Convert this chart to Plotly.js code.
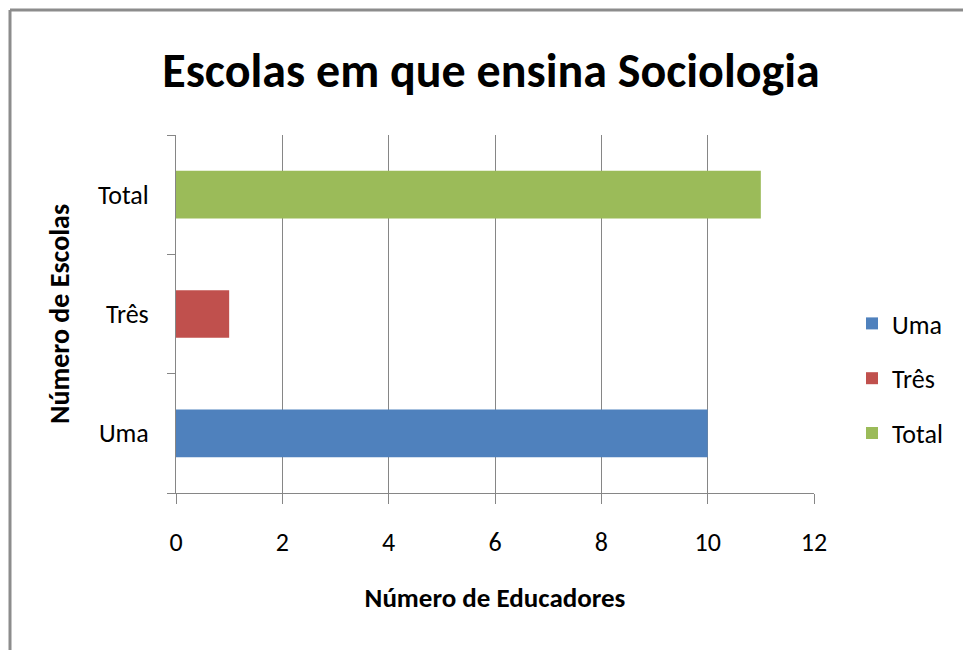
<!DOCTYPE html>
<html>
<head>
<meta charset="utf-8">
<script src="https://cdn.plot.ly/plotly-3.0.1.min.js"></script>
<style>
html,body{margin:0;padding:0;background:#fff;}
#chart{width:963px;height:650px;}
</style>
</head>
<body>
<div id="chart"></div>
<script>
const categories = ['Uma', 'Três', 'Total'];
const values = [10, 1, 11];
const colors = ['#4F81BD', '#C0504D', '#9BBB59'];
const xTicks = [0, 2, 4, 6, 8, 10, 12];
const titleText = 'Escolas em que ensina Sociologia';
const xTitle = 'Número de Educadores';
const yTitle = 'Número de Escolas';

const FONT = 'Carlito, Calibri, "Liberation Sans Narrow", "DejaVu Sans Condensed", sans-serif';

const traces = categories.map((c, i) => ({
  type: 'bar',
  orientation: 'h',
  name: c,
  y: [c],
  x: [values[i]],
  width: 0.4,
  legendgroup: c,
  marker: {color: colors[i], line: {width: 0}},
  hoverinfo: 'x+y'
}));

const L = 176, R = 149, T = 135, B = 157;
const pw = 963 - L - R, ph = 650 - T - B;
const px = v => (v - L) / pw;
const py = v => (650 - B - v) / ph;

const layout = {
  width: 963, height: 650,
  margin: {l: L, r: R, t: T, b: B},
  paper_bgcolor: '#ffffff',
  plot_bgcolor: '#ffffff',
  barmode: 'overlay',
  font: {family: FONT, color: '#000000', size: 26},
  title: {
    text: '<b>' + titleText + '</b>',
    font: {family: FONT, size: 48, color: '#000000'},
    x: px(491), xref: 'paper', xanchor: 'center',
    y: 1 - 70/650, yref: 'container', yanchor: 'middle'
  },
  xaxis: {
    range: [0, 12],
    tickvals: xTicks,
    ticktext: xTicks.map(String),
    showgrid: true, gridcolor: '#868686', gridwidth: 1,
    zeroline: false,
    showline: true, linecolor: '#868686', linewidth: 1,
    ticks: 'outside', ticklen: 10, tickcolor: '#868686',
    ticklabelstandoff: 16,
    tickfont: {family: FONT, size: 26, color: '#000'},
    title: {text: '<b>' + xTitle + '</b>', font: {family: FONT, size: 27, color: '#000'}, standoff: 30},
    fixedrange: true
  },
  yaxis: {
    type: 'category',
    categoryorder: 'array',
    categoryarray: categories,
    range: [-0.5, 2.5],
    showgrid: false,
    zeroline: false,
    showline: true, linecolor: '#868686', linewidth: 1,
    ticks: 'outside', ticklen: 8, tickcolor: '#868686',
    tickson: 'boundaries',
    tickfont: {family: FONT, size: 26, color: '#000'},
    ticklabelstandoff: 21,
    title: {text: '<b>' + yTitle + '</b>', font: {family: FONT, size: 28, color: '#000'}, standoff: 20},
    fixedrange: true
  },
  showlegend: true,
  legend: {
    x: px(852), xanchor: 'left',
    y: py(300), yanchor: 'top',
    traceorder: 'grouped',
    tracegroupgap: 18,
    font: {family: FONT, size: 26, color: '#000'},
    bgcolor: 'rgba(0,0,0,0)',
    itemwidth: 30
  },
  shapes: [
    {type: 'line', xref: 'paper', yref: 'paper', x0: px(10), x1: px(10), y0: py(660), y1: py(10),
     line: {color: '#8c8c8c', width: 3}},
    {type: 'line', xref: 'paper', yref: 'paper', x0: px(10), x1: px(970), y0: py(10), y1: py(10),
     line: {color: '#8c8c8c', width: 3}}
  ]
};

Plotly.newPlot('chart', traces, layout, {displayModeBar: false, staticPlot: true});
</script>
</body>
</html>
